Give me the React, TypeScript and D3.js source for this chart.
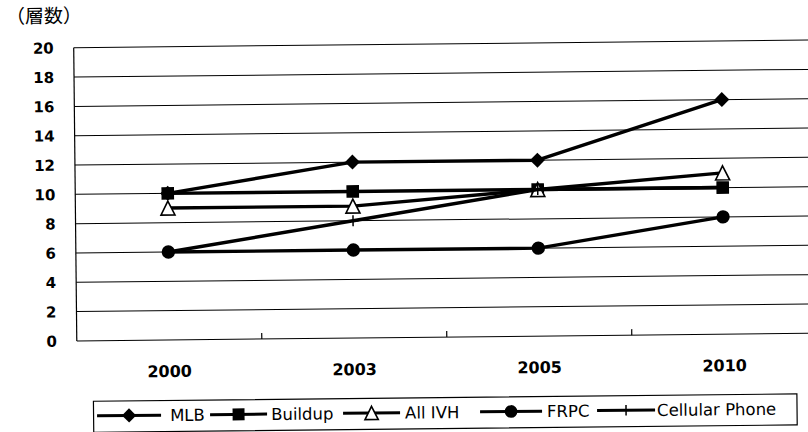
import React from 'react';
import * as d3 from 'd3';

// Layer counts by year for each board type
const years = ['2000', '2003', '2005', '2010'];
const mlb = [10, 12, 12, 16];
const buildup = [10, 10, 10, 10];
const allIvh = [9, 9, 10, 11];
const frpc = [6, 6, 6, 8];
const cellular = [6, 8, 10, 10];
const yTicks = [0, 2, 4, 6, 8, 10, 12, 14, 16, 18, 20];
const seriesNames = ['MLB', 'Buildup', 'All IVH', 'FRPC', 'Cellular Phone'];
const yTitle = '（層数）';

type Marker = 'diamond' | 'square' | 'triangle' | 'circle' | 'cross';

const series: { name: string; values: number[]; marker: Marker }[] = [
  { name: seriesNames[0], values: mlb, marker: 'diamond' },
  { name: seriesNames[1], values: buildup, marker: 'square' },
  { name: seriesNames[2], values: allIvh, marker: 'triangle' },
  { name: seriesNames[3], values: frpc, marker: 'circle' },
  { name: seriesNames[4], values: cellular, marker: 'cross' },
];

const W = 808;
const H = 432;
const plotLeft = 75.5;
const plotRight = 830;

const x = d3.scaleBand<string>().domain(years).range([plotLeft, 815.5]).padding(0);
const y = d3.scaleLinear().domain([0, 20]).range([337.5, 44.3]);
const cx = (yr: string) => (x(yr) as number) + x.bandwidth() / 2;

const lineGen = d3
  .line<[number, number]>()
  .x((d) => d[0])
  .y((d) => d[1]);

function MarkerShape({ kind, px, py, s = 1 }: { kind: Marker; px: number; py: number; s?: number }) {
  switch (kind) {
    case 'diamond': {
      const r = 7.5 * s;
      return <path d={`M${px},${py - r}L${px + r},${py}L${px},${py + r}L${px - r},${py}Z`} fill="#000" />;
    }
    case 'square': {
      const h = 6.3 * s;
      return <rect x={px - h} y={py - h} width={2 * h} height={2 * h} fill="#000" />;
    }
    case 'triangle': {
      const h = 7 * s;
      return (
        <path
          d={`M${px},${py - h}L${px + h},${py + h}L${px - h},${py + h}Z`}
          fill="#fff"
          stroke="#000"
          strokeWidth={1.6}
          strokeLinejoin="miter"
        />
      );
    }
    case 'circle':
      return <circle cx={px} cy={py} r={6.7 * s} fill="#000" />;
    case 'cross': {
      const h = 5.5 * s;
      return (
        <g stroke="#000" strokeWidth={1.5}>
          <line x1={px} x2={px} y1={py - h} y2={py + h} />
          <line x1={px - h} x2={px + h} y1={py} y2={py} />
        </g>
      );
    }
  }
}

// legend layout: sample line span and text start for each entry
const legendLineX = [95, 208, 341, 478, 595];
const legendLineEnd = [159, 265, 398, 540, 653];
const legendTextX = [168, 269, 403, 545, 655];
const legendLeft = 91.5;
const legendRight = 795;
const legendTop = 398;
const legendBottom = 429;
const legendMid = 412.6;

export default function App() {
  const y0 = y(0);
  return (
    <svg
      width={W}
      height={H}
      viewBox={`0 0 ${W} ${H}`}
      style={{ position: 'absolute', left: 0, top: 0, background: '#fff' }}
    >
      <rect x={0} y={0} width={W} height={H} fill="#fff" />
      <g transform="rotate(-0.6 404 216)">
        {/* axis title */}
        <text x={8} y={19} fontFamily="'Noto Sans CJK JP', sans-serif" fontSize={19} fill="#000">
          {yTitle}
        </text>

        {/* horizontal gridlines */}
        {yTicks.map((v) => (
          <line key={v} x1={plotLeft} x2={plotRight} y1={y(v)} y2={y(v)} stroke="#000" strokeWidth={1} />
        ))}
        {/* value axis */}
        <line x1={plotLeft} x2={plotLeft} y1={y(20)} y2={y0} stroke="#000" strokeWidth={1.2} />

        {/* category tick marks between bands */}
        {years.slice(1).map((yr) => (
          <line key={yr} x1={x(yr)} x2={x(yr)} y1={y0} y2={y0 - 6} stroke="#000" strokeWidth={1.2} />
        ))}

        {/* y tick labels */}
        {yTicks.map((v) => (
          <text
            key={v}
            x={55.5}
            y={y(v) + 5.5}
            textAnchor="end"
            fontFamily="'DejaVu Sans', sans-serif"
            fontWeight="bold"
            fontSize={15}
            fill="#000"
          >
            {v}
          </text>
        ))}

        {/* x tick labels */}
        {years.map((yr) => (
          <text
            key={yr}
            x={cx(yr)}
            y={374.5}
            textAnchor="middle"
            fontFamily="'DejaVu Sans', sans-serif"
            fontWeight="bold"
            fontSize={16}
            fill="#000"
          >
            {yr}
          </text>
        ))}

        {/* series */}
        {series.map((s) => {
          const pts: [number, number][] = s.values.map((v, i) => [cx(years[i]), y(v)]);
          return (
            <g key={s.name}>
              <path d={lineGen(pts) || ''} fill="none" stroke="#000" strokeWidth={3.4} strokeLinejoin="round" />
              {pts.map((p, i) => (
                <MarkerShape key={i} kind={s.marker} px={p[0]} py={p[1]} />
              ))}
            </g>
          );
        })}

        {/* legend */}
        <rect
          x={legendLeft}
          y={legendTop}
          width={legendRight - legendLeft}
          height={legendBottom - legendTop}
          fill="#fff"
          stroke="#000"
          strokeWidth={1.2}
        />
        {series.map((s, i) => (
          <g key={s.name}>
            <line
              x1={legendLineX[i]}
              x2={legendLineEnd[i]}
              y1={legendMid}
              y2={legendMid}
              stroke="#000"
              strokeWidth={3}
            />
            <MarkerShape kind={s.marker} px={(legendLineX[i] + legendLineEnd[i]) / 2} py={legendMid} s={0.95} />
            <text
              x={legendTextX[i]}
              y={legendMid + 6}
              fontFamily="'DejaVu Sans', sans-serif"
              fontSize={16.5}
              fill="#000"
            >
              {s.name}
            </text>
          </g>
        ))}
      </g>
    </svg>
  );
}
